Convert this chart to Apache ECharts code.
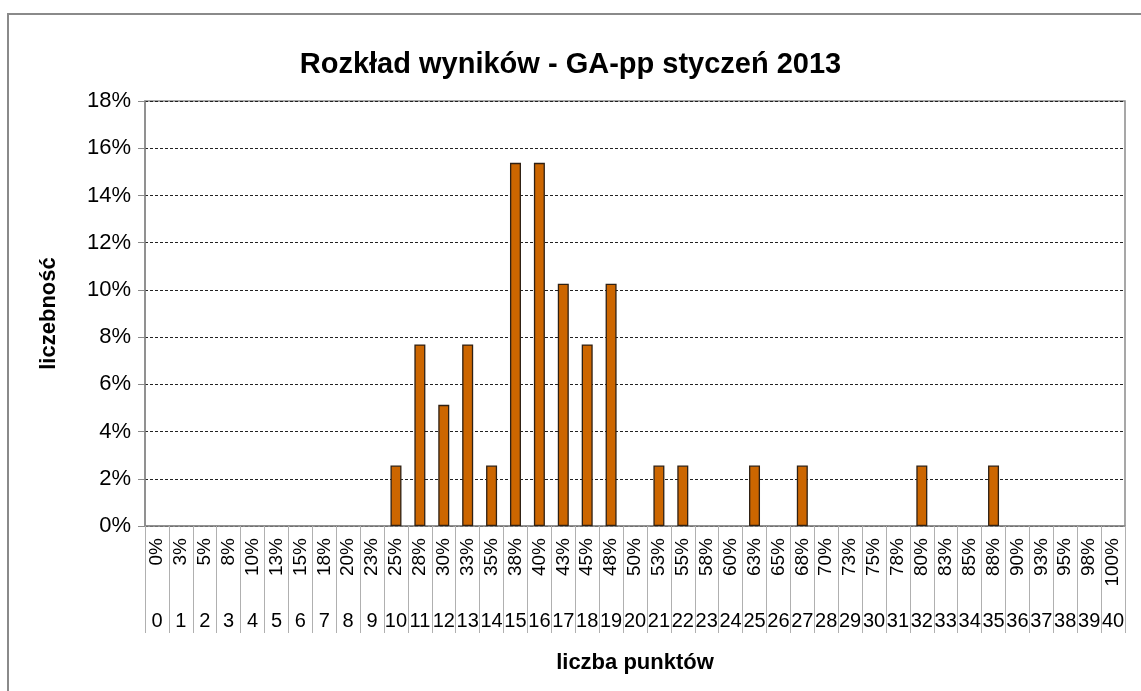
<!DOCTYPE html>
<html>
<head>
<meta charset="utf-8">
<title>Rozkład wyników</title>
<script src="https://cdn.jsdelivr.net/npm/echarts@6/dist/echarts.min.js"></script>
<style>
  html, body { margin: 0; padding: 0; background: #ffffff; }
  #chart { width: 1141px; height: 691px; }
</style>
</head>
<body>
<div id="chart"></div>
<script>
// liczba punktów (0..40)
var points = ['0','1','2','3','4','5','6','7','8','9','10','11','12','13','14','15','16','17','18','19','20',
  '21','22','23','24','25','26','27','28','29','30','31','32','33','34','35','36','37','38','39','40'];
// procent punktów
var pctLabels = ['0%','3%','5%','8%','10%','13%','15%','18%','20%','23%','25%','28%','30%','33%','35%','38%','40%',
  '43%','45%','48%','50%','53%','55%','58%','60%','63%','65%','68%','70%','73%','75%','78%','80%','83%','85%','88%',
  '90%','93%','95%','98%','100%'];
// liczebność w %
var counts = [0,0,0,0,0,0,0,0,0,0, 2.56,7.69,5.13,7.69,2.56,15.38,15.38,10.26,7.69,10.26,
  0,2.56,2.56,0,0,2.56,0,2.56,0,0, 0,0,2.56,0,0,2.56,0,0,0,0, 0];
var yTicks = [0, 18, 2]; // min, max, interval

var font = 'Liberation Sans, Arial, sans-serif';
var chart = echarts.init(document.getElementById('chart'));

// puste słupki bez obramowania (żeby nie było kresek na osi)
var barData = counts.map(function (v) {
  return v === 0 ? { value: v, itemStyle: { borderWidth: 0 } } : v;
});

chart.setOption({
  backgroundColor: '#ffffff',
  animation: false,
  title: {
    text: 'Rozkład wyników - GA-pp styczeń 2013',
    left: 'center',
    top: 45,
    textStyle: { fontFamily: font, fontSize: 29, fontWeight: 'bold', color: '#000' }
  },
  graphic: [
    {
      type: 'rect',
      shape: { x: 8, y: 14, width: 1160, height: 700 },
      style: { fill: 'none', stroke: '#8a8a8a', lineWidth: 2 },
      silent: true
    }
  ],
  grid: {
    left: 145, right: 16, top: 101, bottom: 165,
    show: true, borderColor: '#8a8a8a', borderWidth: 1.5
  },
  xAxis: [
    {
      type: 'category',
      data: pctLabels,
      position: 'bottom',
      boundaryGap: true,
      axisLine: { lineStyle: { color: '#8a8a8a', width: 1.5 } },
      axisTick: { show: true, interval: 0, length: 107, lineStyle: { color: '#b0b0b0', width: 1 } },
      axisLabel: { interval: 0, rotate: 90, margin: 12, fontFamily: font, fontSize: 19, color: '#000' }
    },
    {
      type: 'category',
      data: points,
      position: 'bottom',
      boundaryGap: true,
      name: 'liczba punktów',
      nameLocation: 'middle',
      nameGap: 126,
      nameTextStyle: { fontFamily: font, fontSize: 22, fontWeight: 'bold', color: '#000' },
      axisLine: { show: false },
      axisTick: { show: false },
      axisLabel: { interval: 0, margin: 85, fontFamily: font, fontSize: 20, color: '#000' }
    }
  ],
  yAxis: {
    type: 'value',
    min: yTicks[0],
    max: yTicks[1],
    interval: yTicks[2],
    name: 'liczebność',
    nameLocation: 'middle',
    nameRotate: 90,
    nameGap: 85,
    nameTextStyle: { fontFamily: font, fontSize: 22, fontWeight: 'bold', color: '#000' },
    axisLine: { show: true, lineStyle: { color: '#8a8a8a', width: 1.5 } },
    axisTick: { show: true, length: 7, lineStyle: { color: '#8a8a8a' } },
    axisLabel: { formatter: '{value}%', margin: 14, fontFamily: font, fontSize: 22, color: '#000' },
    splitLine: { show: true, lineStyle: { color: '#222', type: [3, 2], width: 1 } }
  },
  series: [
    {
      type: 'bar',
      xAxisIndex: 0,
      data: barData,
      barWidth: 11,
      itemStyle: { color: '#CC6600', borderColor: '#2e2014', borderWidth: 1.3 }
    }
  ]
});
</script>
</body>
</html>
